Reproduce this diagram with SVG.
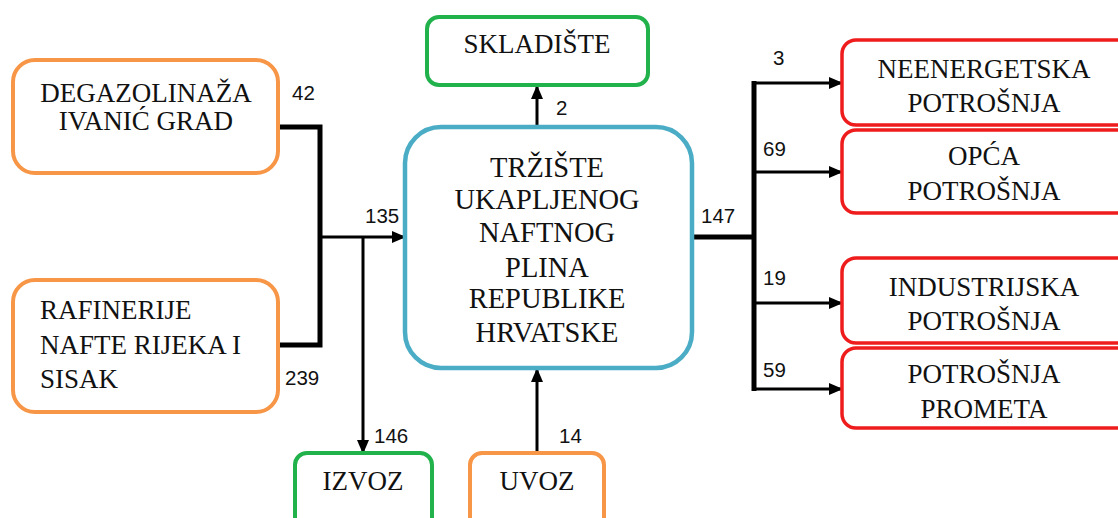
<svg xmlns="http://www.w3.org/2000/svg" width="1118" height="518" viewBox="0 0 1118 518">
<style>
.box{fill:#fff;stroke-width:4}
.or{stroke:#F79646}
.gr{stroke:#22B24C}
.bl{stroke:#4BACC6;stroke-width:4.5}
.rd{stroke:#EE1C1C;stroke-width:3.5}
.t{font-family:'Liberation Serif','Times New Roman',serif;font-size:27px;fill:#111;text-anchor:middle}
.tc{font-size:28.5px}
.tl{text-anchor:start}
.n{font-family:'Liberation Sans',Arial,sans-serif;font-size:20.5px;fill:#111}
.ln{fill:none;stroke:#000;stroke-width:3}
.thk{fill:none;stroke:#000;stroke-width:5}
</style>
<defs>
<marker id="ah" markerUnits="userSpaceOnUse" markerWidth="14" markerHeight="12" refX="13" refY="6" orient="auto">
<path d="M0,0 L14,6 L0,12 Z" fill="#000"/>
</marker>
</defs>
<g id="connectors">
<polyline class="thk" points="278,127 320,127 320,345 278,345"/>
<line class="ln" x1="320" y1="237" x2="405" y2="237" marker-end="url(#ah)"/>
<line class="ln" x1="363" y1="237" x2="363" y2="453" marker-end="url(#ah)"/>
<line class="ln" x1="537" y1="127" x2="537" y2="86" marker-end="url(#ah)"/>
<line class="ln" x1="537" y1="453" x2="537" y2="369" marker-end="url(#ah)"/>
<line class="thk" x1="692" y1="237" x2="756" y2="237"/>
<line class="thk" x1="754" y1="81" x2="754" y2="391"/>
<line class="ln" x1="754" y1="83" x2="842" y2="83" marker-end="url(#ah)"/>
<line class="ln" x1="754" y1="172" x2="842" y2="172" marker-end="url(#ah)"/>
<line class="ln" x1="754" y1="303" x2="842" y2="303" marker-end="url(#ah)"/>
<line class="ln" x1="754" y1="389" x2="842" y2="389" marker-end="url(#ah)"/>
<text class="n" x="292" y="100">42</text>
<text class="n" x="285" y="385">239</text>
<text class="n" x="365" y="223">135</text>
<text class="n" x="374" y="443">146</text>
<text class="n" x="556" y="115">2</text>
<text class="n" x="559" y="443">14</text>
<text class="n" x="701" y="223">147</text>
<text class="n" x="773" y="65">3</text>
<text class="n" x="763" y="156">69</text>
<text class="n" x="763" y="285">19</text>
<text class="n" x="763" y="377">59</text>
</g>
<g id="degazolinaza">
<rect class="box or" x="13" y="60" width="265" height="113" rx="22"/>
<text class="t" x="146" y="102">DEGAZOLINAŽA</text>
<text class="t" x="146" y="130">IVANIĆ GRAD</text>
</g>
<g id="rafinerije">
<rect class="box or" x="13" y="280" width="265" height="132" rx="22"/>
<text class="t tl" x="40" y="319">RAFINERIJE</text>
<text class="t tl" x="40" y="354">NAFTE RIJEKA I</text>
<text class="t tl" x="40" y="388">SISAK</text>
</g>
<g id="trziste">
<rect class="box bl" x="405" y="127" width="287" height="241" rx="36"/>
<text class="t tc" x="547" y="177">TRŽIŠTE</text>
<text class="t tc" x="547" y="209">UKAPLJENOG</text>
<text class="t tc" x="547" y="242">NAFTNOG</text>
<text class="t tc" x="547" y="277">PLINA</text>
<text class="t tc" x="547" y="308">REPUBLIKE</text>
<text class="t tc" x="547" y="342">HRVATSKE</text>
</g>
<g id="skladiste">
<rect class="box gr" x="427" y="17" width="221" height="68" rx="12"/>
<text class="t" x="537" y="53">SKLADIŠTE</text>
</g>
<g id="izvoz">
<rect class="box gr" x="295" y="453" width="137" height="80" rx="12"/>
<text class="t" x="363" y="490">IZVOZ</text>
</g>
<g id="uvoz">
<rect class="box or" x="470" y="453" width="134" height="80" rx="12"/>
<text class="t" x="537" y="490">UVOZ</text>
</g>
<g id="neenergetska">
<rect class="box rd" x="842" y="40" width="290" height="85" rx="14"/>
<text class="t" x="984" y="78">NEENERGETSKA</text>
<text class="t" x="984" y="112">POTROŠNJA</text>
</g>
<g id="opca">
<rect class="box rd" x="842" y="130" width="290" height="83" rx="14"/>
<text class="t" x="984" y="165">OPĆA</text>
<text class="t" x="984" y="200">POTROŠNJA</text>
</g>
<g id="industrijska">
<rect class="box rd" x="842" y="258" width="290" height="85" rx="14"/>
<text class="t" x="984" y="296">INDUSTRIJSKA</text>
<text class="t" x="984" y="330">POTROŠNJA</text>
</g>
<g id="prometa">
<rect class="box rd" x="842" y="348" width="290" height="80" rx="14"/>
<text class="t" x="984" y="383">POTROŠNJA</text>
<text class="t" x="984" y="418">PROMETA</text>
</g>
</svg>
